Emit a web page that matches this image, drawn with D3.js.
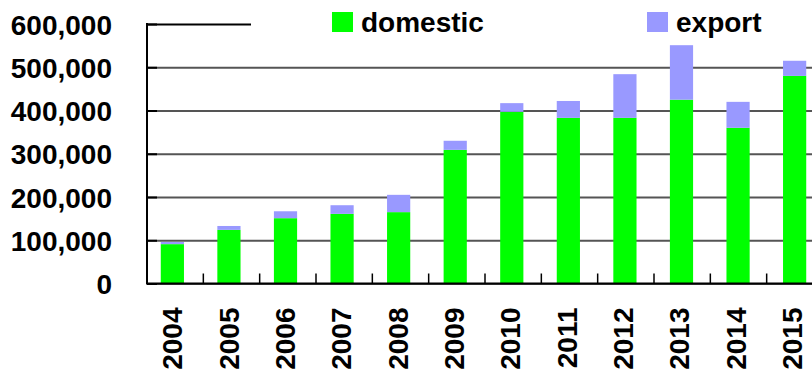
<!DOCTYPE html>
<html>
<head>
<meta charset="utf-8">
<script src="https://cdn.jsdelivr.net/npm/d3@7"></script>
<style>
  body { margin: 0; background: #fff; }
  text { font-family: "Liberation Sans", Arial, sans-serif; font-weight: bold; fill: #000; }
</style>
</head>
<body>
<div class="graph"></div>
<script>
// values
var years    = ["2004", "2005", "2006", "2007", "2008", "2009", "2010", "2011", "2012", "2013", "2014", "2015"];
var domestic = [91000, 124000, 151000, 161000, 165000, 309000, 397000, 383000, 383000, 425000, 360000, 480000];
var exportV  = [5000, 9000, 16000, 20000, 40000, 21000, 20000, 39000, 101000, 126000, 60000, 35000];
var yTicks   = [0, 100000, 200000, 300000, 400000, 500000, 600000];
var seriesNames = ["domestic", "export"];
var colors = {domestic: "#00ff00", export: "#9999ff"};

var W = 812, H = 376;
var margin = {top: 24, left: 147};
var plotH = 259.5;              // 0 .. 600,000
var plotRight = 823;            // plot runs past the window edge

var svg = d3.select(".graph").append("svg")
    .attr("width", W)
    .attr("height", H);

var y = d3.scaleLinear().domain([0, 600000]).range([margin.top + plotH, margin.top]);

// one band per year, used for ticks and labels
var xCat = d3.scaleBand().domain(years).range([margin.left, plotRight]).padding(0);
// narrower band for the bars
var x = d3.scaleBand().domain(years).range([margin.left, plotRight])
    .paddingInner(0.59).paddingOuter(0.27);

var table = years.map(function(yr, i) {
    return {year: yr, domestic: domestic[i], export: exportV[i]};
});
var stacked = d3.stack().keys(seriesNames)(table);

// gridlines
var grid = svg.append("g")
    .attr("transform", "translate(" + margin.left + ",0)")
    .call(d3.axisLeft(y).tickValues(yTicks).tickSize(-(W - margin.left)).tickFormat(""));
grid.select(".domain").remove();
grid.selectAll("line")
    .attr("stroke", function(d) { return d === 600000 ? "#000" : "#555"; })
    .attr("stroke-width", 2);

// bars
svg.append("g").selectAll("g")
    .data(stacked)
    .join("g")
    .attr("fill", function(s) { return colors[s.key]; })
    .selectAll("rect")
    .data(function(s) { return s; })
    .join("rect")
    .attr("x", function(d) { return x(d.data.year) - 1.5; })
    .attr("width", x.bandwidth())
    .attr("y", function(d) { return y(d[1]); })
    .attr("height", function(d) { return y(d[0]) - y(d[1]); });

// legend sits on a white box that hides part of the top line
svg.append("rect")
    .attr("x", 251).attr("y", 0)
    .attr("width", W - 251).attr("height", 44)
    .attr("fill", "#fff");

var legendX = [332, 647];
var legend = svg.append("g").selectAll("g")
    .data(seriesNames)
    .join("g")
    .attr("transform", function(d, i) { return "translate(" + legendX[i] + ",12)"; });
legend.append("rect")
    .attr("width", 21).attr("height", 20)
    .attr("fill", function(d) { return colors[d]; });
legend.append("text")
    .attr("x", 29).attr("y", 20)
    .style("font-size", "28px")
    .text(function(d) { return d; });

// y axis: labels, inner ticks, line
var yAxis = svg.append("g")
    .attr("transform", "translate(" + margin.left + ",0)")
    .call(d3.axisLeft(y).tickValues(yTicks).tickSize(0).tickPadding(35).tickFormat(d3.format(",")));
yAxis.select(".domain").remove();
yAxis.selectAll("text")
    .style("font-size", "28px")
    .style("font-family", "'Liberation Sans', Arial, sans-serif")
    .style("font-weight", "bold")
    .attr("dy", "0.36em");

var yTickIn = svg.append("g")
    .attr("transform", "translate(" + margin.left + ",0)")
    .call(d3.axisRight(y).tickValues(yTicks).tickSize(10).tickFormat(""));
yTickIn.select(".domain").remove();
yTickIn.selectAll("line").attr("stroke", "#000").attr("stroke-width", 2);

svg.append("line")
    .attr("x1", margin.left).attr("x2", margin.left)
    .attr("y1", y(600000) - 1).attr("y2", y(0) + 1)
    .attr("stroke", "#000").attr("stroke-width", 2);

// x axis: baseline, ticks between years, rotated labels
svg.append("line")
    .attr("x1", margin.left).attr("x2", W)
    .attr("y1", y(0)).attr("y2", y(0))
    .attr("stroke", "#000").attr("stroke-width", 2);

svg.append("g").selectAll("line")
    .data(years.slice(1))
    .join("line")
    .attr("x1", function(d) { return xCat(d); })
    .attr("x2", function(d) { return xCat(d); })
    .attr("y1", y(0)).attr("y2", y(0) - 10)
    .attr("stroke", "#000").attr("stroke-width", 1.5);

svg.append("g").selectAll("text")
    .data(years)
    .join("text")
    .attr("transform", function(d) {
        return "translate(" + (xCat(d) + xCat.bandwidth() / 2) + "," + (y(0) + 24) + ") rotate(-90)";
    })
    .attr("text-anchor", "end")
    .attr("dy", "0.25em")
    .style("font-size", "28px")
    .text(function(d) { return d; });
</script>
</body>
</html>
